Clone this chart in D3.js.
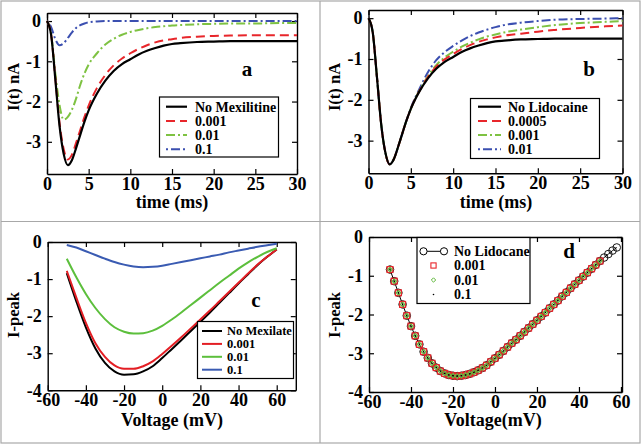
<!DOCTYPE html>
<html><head><meta charset="utf-8">
<script src="https://cdn.jsdelivr.net/npm/d3@7/dist/d3.min.js"></script>
<style>
html,body{margin:0;padding:0;background:#fff;}
svg text{font-family:"Liberation Serif","Times New Roman",serif;font-weight:bold;}
</style></head>
<body>
<svg id="chart" width="642" height="445"></svg>
<script>
// ---------- DATA ----------
const timeMs = [0,0.5,1,1.5,2,2.5,3,3.5,4,4.5,5,6,7,8,9,10,11,12,13,14,15,16,18,20,22,25,28,30];
const timeTicks = [0,5,10,15,20,25,30];
const currentTicks = [0,-1,-2,-3];

// panel a: Mexilitine
const aLabels = ["No Mexilitine","0.001","0.01","0.1"];
const aNoMex  = [0,-0.35,-1.45,-2.6,-3.3,-3.58,-3.45,-3.15,-2.82,-2.5,-2.22,-1.8,-1.48,-1.24,-1.07,-0.95,-0.83,-0.74,-0.67,-0.61,-0.57,-0.55,-0.52,-0.51,-0.5,-0.5,-0.5,-0.5];
const aMex001 = [0,-0.35,-1.42,-2.52,-3.18,-3.44,-3.32,-3.02,-2.7,-2.38,-2.1,-1.66,-1.34,-1.1,-0.93,-0.8,-0.69,-0.6,-0.53,-0.48,-0.45,-0.42,-0.39,-0.37,-0.36,-0.35,-0.35,-0.35];
const aMex01  = [0,-0.33,-1.3,-2.08,-2.45,-2.38,-2.2,-1.92,-1.58,-1.3,-1.08,-0.8,-0.58,-0.44,-0.34,-0.27,-0.22,-0.18,-0.15,-0.13,-0.11,-0.1,-0.08,-0.07,-0.06,-0.06,-0.05,-0.05];
const aMex1   = [0,-0.15,-0.45,-0.6,-0.55,-0.42,-0.28,-0.17,-0.1,-0.06,-0.03,-0.01,0,0,0,0,0,0,0,0,0,0,0,0,0,0,0,0];

// panel b: Lidocaine
const bLabels = ["No Lidocaine","0.0005","0.001","0.01"];
const bNoLido   = [0,-0.35,-1.45,-2.6,-3.3,-3.58,-3.45,-3.15,-2.82,-2.5,-2.22,-1.8,-1.48,-1.24,-1.07,-0.95,-0.83,-0.74,-0.67,-0.61,-0.57,-0.55,-0.52,-0.51,-0.5,-0.5,-0.5,-0.5];
const bLido0005 = [0,-0.35,-1.45,-2.6,-3.3,-3.58,-3.45,-3.15,-2.82,-2.5,-2.22,-1.79,-1.45,-1.19,-1.01,-0.88,-0.76,-0.66,-0.58,-0.52,-0.47,-0.43,-0.38,-0.33,-0.29,-0.24,-0.2,-0.18];
const bLido001  = [0,-0.35,-1.45,-2.6,-3.3,-3.58,-3.45,-3.15,-2.82,-2.5,-2.22,-1.78,-1.43,-1.15,-0.96,-0.82,-0.7,-0.6,-0.52,-0.45,-0.4,-0.35,-0.28,-0.22,-0.17,-0.12,-0.09,-0.07];
const bLido01   = [0,-0.35,-1.45,-2.6,-3.3,-3.58,-3.45,-3.15,-2.82,-2.5,-2.2,-1.74,-1.33,-1.03,-0.83,-0.68,-0.55,-0.44,-0.35,-0.28,-0.22,-0.17,-0.11,-0.07,-0.04,-0.02,-0.01,0];

// panel c: I-peak vs voltage, Mexilate
const voltsC = [-50,-45,-40,-35,-30,-25,-20,-15,-10,-5,0,5,10,15,20,25,30,35,40,45,50,55,60];
const voltTicks = [-60,-40,-20,0,20,40,60];
const peakTicks = [0,-1,-2,-3,-4];
const cLabels = ["No Mexilate","0.001","0.01","0.1"];
const cNoMex  = [-0.84,-1.6,-2.3,-2.87,-3.26,-3.49,-3.58,-3.57,-3.49,-3.35,-3.13,-2.89,-2.65,-2.4,-2.15,-1.9,-1.64,-1.38,-1.12,-0.87,-0.62,-0.4,-0.2];
const cMex001 = [-0.78,-1.5,-2.18,-2.73,-3.1,-3.33,-3.42,-3.42,-3.35,-3.22,-3.02,-2.8,-2.57,-2.33,-2.09,-1.85,-1.6,-1.35,-1.1,-0.85,-0.61,-0.4,-0.2];
const cMex01  = [-0.45,-0.95,-1.4,-1.78,-2.08,-2.3,-2.42,-2.47,-2.46,-2.39,-2.26,-2.09,-1.9,-1.7,-1.5,-1.3,-1.1,-0.91,-0.72,-0.55,-0.4,-0.27,-0.17];
const cMex1   = [-0.08,-0.15,-0.25,-0.35,-0.45,-0.54,-0.61,-0.66,-0.68,-0.67,-0.64,-0.59,-0.54,-0.49,-0.44,-0.39,-0.34,-0.28,-0.23,-0.18,-0.13,-0.09,-0.05];

// panel d: I-peak vs voltage, Lidocane (markers)
const dLabels = ["No Lidocane","0.001","0.01","0.1"];
const voltsD = [-50,-48,-46,-44,-42,-40,-38,-36,-34,-32,-30,-28,-26,-24,-22,-20,-18,-16,-14,-12,-10,-8,-6,-4,-2,0,2,4,6,8,10,12,14,16,18,20,22,24,26,28,30,32,34,36,38,40,42,44,46,48,50,52,54,56,58];
const dNoLido = [-0.84,-1.14,-1.44,-1.74,-2.03,-2.3,-2.55,-2.77,-2.96,-3.12,-3.26,-3.37,-3.46,-3.52,-3.56,-3.58,-3.59,-3.58,-3.56,-3.53,-3.49,-3.44,-3.38,-3.31,-3.22,-3.13,-3.04,-2.94,-2.84,-2.74,-2.65,-2.55,-2.45,-2.35,-2.25,-2.15,-2.05,-1.95,-1.84,-1.74,-1.64,-1.53,-1.43,-1.32,-1.22,-1.12,-1.02,-0.92,-0.82,-0.72,-0.62,-0.53,-0.44,-0.35,-0.27];
const dLido001 = [-0.84,-1.14,-1.44,-1.74,-2.03,-2.3,-2.55,-2.77,-2.96,-3.12,-3.26,-3.37,-3.46,-3.52,-3.56,-3.58,-3.59,-3.58,-3.56,-3.53,-3.49,-3.44,-3.38,-3.31,-3.22,-3.13,-3.04,-2.94,-2.84,-2.74,-2.65,-2.55,-2.45,-2.35,-2.25,-2.15,-2.05,-1.95,-1.84,-1.74,-1.64,-1.53,-1.43,-1.32,-1.22,-1.12,-1.02,-0.92,-0.82,-0.72,-0.62];
const dLido01  = [-0.84,-1.14,-1.44,-1.74,-2.03,-2.3,-2.55,-2.77,-2.96,-3.12,-3.26,-3.37,-3.46,-3.52,-3.56,-3.58,-3.59,-3.58,-3.56,-3.53,-3.49,-3.44,-3.38,-3.31,-3.22,-3.13,-3.04,-2.94,-2.84,-2.74,-2.65,-2.55,-2.45,-2.35,-2.25,-2.15,-2.05,-1.95,-1.84,-1.74,-1.64,-1.53,-1.43,-1.32,-1.22,-1.12,-1.02,-0.92,-0.82,-0.72,-0.62];
const dLido1   = [-0.84,-1.14,-1.44,-1.74,-2.03,-2.3,-2.55,-2.77,-2.96,-3.12,-3.26,-3.37,-3.46,-3.52,-3.56,-3.58,-3.59,-3.58,-3.56,-3.53,-3.49,-3.44,-3.38,-3.31,-3.22,-3.13,-3.04,-2.94,-2.84,-2.74,-2.65,-2.55,-2.45,-2.35,-2.25,-2.15,-2.05,-1.95,-1.84,-1.74,-1.64,-1.53,-1.43,-1.32,-1.22,-1.12,-1.02,-0.92,-0.82,-0.72,-0.62];

// ---------- DRAW ----------
const svg = d3.select("#chart");
const COL = {black:"#000000", red:"#e8262b", green:"#7ec242", blue:"#3b4fb0"};
const COLC = {black:"#000000", red:"#e31e24", green:"#5cbf3c", blue:"#3a5bb2"};
const SERIF = "'Liberation Serif','Times New Roman',serif";

// grey panel frames
svg.append("rect").attr("x",1).attr("y",1).attr("width",639).attr("height",442)
  .attr("fill","none").attr("stroke","#a8a8a8").attr("stroke-width",1.2);
svg.append("line").attr("x1",320).attr("x2",320).attr("y1",1).attr("y2",443).attr("stroke","#a8a8a8").attr("stroke-width",1.2);
svg.append("line").attr("x1",1).attr("x2",640).attr("y1",221.5).attr("y2",221.5).attr("stroke","#a8a8a8").attr("stroke-width",1.2);

const fmt = d => String(d);

function panel(p) {
  const g = svg.append("g");
  const x = d3.scaleLinear().domain(p.xDom).range([p.left, p.right]);
  const y = d3.scaleLinear().domain(p.yDom).range([p.bottom, p.top]);
  const styleAxis = sel => {
    sel.attr("font-family", SERIF).attr("font-size", 18);
    sel.select(".domain").attr("stroke","#000").attr("stroke-width",1.4);
    sel.selectAll(".tick line").attr("stroke","#000").attr("stroke-width",1.2);
    sel.selectAll("text").attr("font-size",18).attr("fill","#000")
       .attr("font-family",SERIF).attr("font-weight","bold");
  };
  g.append("g").attr("transform",`translate(0,${p.bottom})`)
    .call(d3.axisBottom(x).tickValues(p.xTicks).tickFormat(fmt).tickSizeInner(-5).tickSizeOuter(0).tickPadding(3))
    .call(styleAxis);
  g.append("g").attr("transform",`translate(0,${p.top})`)
    .call(d3.axisTop(x).tickValues(p.xTicks).tickFormat("").tickSizeInner(-5).tickSizeOuter(0))
    .call(styleAxis);
  g.append("g").attr("transform",`translate(${p.left},0)`)
    .call(d3.axisLeft(y).tickValues(p.yTicks).tickFormat(fmt).tickSizeInner(-5).tickSizeOuter(0).tickPadding(6))
    .call(styleAxis);
  g.append("g").attr("transform",`translate(${p.right},0)`)
    .call(d3.axisRight(y).tickValues(p.yTicks).tickFormat("").tickSizeInner(-5).tickSizeOuter(0))
    .call(styleAxis);

  const plot = g.append("g");
  if (p.lines) {
    const line = d3.line().x(d => x(d[0])).y(d => y(d[1])).curve(d3.curveMonotoneX);
    p.lines.forEach(s => {
      plot.append("path").datum(s.xs.map((v,i) => [v, s.ys[i]]))
        .attr("d", line).attr("fill","none").attr("stroke", s.color)
        .attr("stroke-width", s.width).attr("stroke-dasharray", s.dash || null);
    });
  }
  if (p.markers) p.markers(plot, x, y);

  g.append("text").attr("x",p.xt[0]).attr("y",p.xt[1]).attr("text-anchor","middle")
    .attr("font-size",18).text(p.xTitle);
  g.append("text").attr("transform",`translate(${p.yt[0]},${p.yt[1]}) rotate(-90)`)
    .attr("text-anchor","middle").attr("font-size",16.5).text(p.yTitle);
  g.append("text").attr("x",p.letter[0]).attr("y",p.letter[1]).attr("text-anchor","middle")
    .attr("font-size",21).text(p.letterText);
  return {g, x, y};
}

function legend(g, box, rows, fontSize, textX, drawSample) {
  g.append("rect").attr("x",box[0]).attr("y",box[1]).attr("width",box[2]).attr("height",box[3])
    .attr("fill","#fff").attr("stroke","#000").attr("stroke-width",1.2);
  rows.forEach(r => {
    drawSample(r);
    g.append("text").attr("x",textX).attr("y",r.y).attr("dy","0.35em")
      .attr("font-size",fontSize).text(r.label);
  });
}

// ---- panel a
const seriesA = [
  {ys:aNoMex, color:COL.black, width:2.2, dash:null},
  {ys:aMex001, color:COL.red, width:2, dash:"9,5"},
  {ys:aMex01, color:COL.green, width:2, dash:"9,3,2,3"},
  {ys:aMex1, color:COL.blue, width:2, dash:"2,3,9,3"}
];
const pa = panel({left:47, right:297, top:13, bottom:174, xDom:[0,30], yDom:[-3.8,0.2],
  xTicks:timeTicks, yTicks:currentTicks,
  lines:seriesA.slice().reverse().map(s => ({...s, xs:timeMs})),
  xTitle:"time (ms)", yTitle:"I(t) nA", xt:[172,208], yt:[19,87], letter:[247,76], letterText:"a"});
legend(pa.g, [159.5,97,119,60], seriesA.map((s,i)=>({...s,label:aLabels[i],y:106.7+i*14.2})), 14, 195,
  r => pa.g.append("line").attr("x1",166).attr("x2",187).attr("y1",r.y).attr("y2",r.y)
        .attr("stroke",r.color).attr("stroke-width",r.width).attr("stroke-dasharray",r.dash));

// ---- panel b
const seriesB = [
  {ys:bNoLido, color:COL.black, width:2.2, dash:null},
  {ys:bLido0005, color:COL.red, width:2, dash:"9,5"},
  {ys:bLido001, color:COL.green, width:2, dash:"9,3,2,3"},
  {ys:bLido01, color:COL.blue, width:2, dash:"2,3,9,3"}
];
const pb = panel({left:368.5, right:622.5, top:10, bottom:173.3, xDom:[0,30], yDom:[-3.8,0.2],
  xTicks:timeTicks, yTicks:currentTicks,
  lines:seriesB.slice().reverse().map(s => ({...s, xs:timeMs})),
  xTitle:"time (ms)", yTitle:"I(t) nA", xt:[496,208], yt:[340,87], letter:[589,76], letterText:"b"});
legend(pb.g, [470.5,98.5,129,60], seriesB.map((s,i)=>({...s,label:bLabels[i],y:106.7+i*14.2})), 14, 508,
  r => pb.g.append("line").attr("x1",478).attr("x2",501).attr("y1",r.y).attr("y2",r.y)
        .attr("stroke",r.color).attr("stroke-width",r.width).attr("stroke-dasharray",r.dash));

// ---- panel c
const seriesC = [
  {ys:cNoMex, color:COLC.black, width:2},
  {ys:cMex001, color:COLC.red, width:2},
  {ys:cMex01, color:COLC.green, width:2},
  {ys:cMex1, color:COLC.blue, width:2}
];
const pc = panel({left:47.7, right:295.8, top:242, bottom:390.3, xDom:[-60,70], yDom:[-4,0],
  xTicks:voltTicks, yTicks:peakTicks,
  lines:seriesC.map(s => ({...s, xs:voltsC})),
  xTitle:"Voltage (mV)", yTitle:"I-peak", xt:[172,426], yt:[19,315], letter:[256,307], letterText:"c"});
legend(pc.g, [197.5,321.5,96,57], seriesC.map((s,i)=>({...s,label:cLabels[i],y:331+i*12.9})), 12.5, 227,
  r => pc.g.append("line").attr("x1",202).attr("x2",222).attr("y1",r.y).attr("y2",r.y)
        .attr("stroke",r.color).attr("stroke-width",r.width));

// ---- panel d
const pd = panel({left:369, right:622, top:237, bottom:392, xDom:[-60,60.5], yDom:[-4,0],
  xTicks:voltTicks, yTicks:peakTicks,
  markers:(plot, x, y) => {
    const ptsBase = voltsD.map((v,i)=>[v,dNoLido[i]]);
    plot.append("path").datum(ptsBase).attr("d", d3.line().x(d=>x(d[0])).y(d=>y(d[1])))
      .attr("fill","none").attr("stroke","#000").attr("stroke-width",1);
    plot.selectAll(".c0").data(ptsBase).enter().append("circle")
      .attr("cx",d=>x(d[0])).attr("cy",d=>y(d[1])).attr("r",3.8)
      .attr("fill","none").attr("stroke","#000").attr("stroke-width",0.9);
    const sq = dLido001.map((v,i)=>[voltsD[i],v]);
    plot.selectAll(".c1").data(sq).enter().append("rect")
      .attr("x",d=>x(d[0])-2.9).attr("y",d=>y(d[1])-2.9).attr("width",5.8).attr("height",5.8)
      .attr("fill","none").attr("stroke",COL.red).attr("stroke-width",1.3);
    const dm = dLido01.map((v,i)=>[voltsD[i],v]);
    plot.selectAll(".c2").data(dm).enter().append("path")
      .attr("d",d=>`M${x(d[0])},${y(d[1])-2.2}l2.2,2.2l-2.2,2.2l-2.2,-2.2z`)
      .attr("fill","none").attr("stroke","#5fb83a").attr("stroke-width",1.1);
    const dt = dLido1.map((v,i)=>[voltsD[i],v]);
    plot.selectAll(".c3").data(dt).enter().append("circle")
      .attr("cx",d=>x(d[0])).attr("cy",d=>y(d[1])).attr("r",0.8).attr("fill","#000");
  },
  xTitle:"Voltage(mV)", yTitle:"I-peak", xt:[493,426], yt:[340,315], letter:[569,258], letterText:"d"});
{
  const g = pd.g;
  g.append("rect").attr("x",417).attr("y",237.5).attr("width",113).attr("height",66)
    .attr("fill","#fff").attr("stroke","#000").attr("stroke-width",1.2);
  const ys = [251.3,265.5,280,294.5];
  g.append("line").attr("x1",423.5).attr("x2",444).attr("y1",ys[0]).attr("y2",ys[0]).attr("stroke","#000").attr("stroke-width",1);
  [423.5,444].forEach(cx => g.append("circle").attr("cx",cx).attr("cy",ys[0]).attr("r",3.6)
    .attr("fill","#fff").attr("stroke","#000").attr("stroke-width",1));
  g.append("rect").attr("x",433.5-2.6).attr("y",ys[1]-2.6).attr("width",5.2).attr("height",5.2)
    .attr("fill","none").attr("stroke",COL.red).attr("stroke-width",1.1);
  g.append("path").attr("d",`M433.5,${ys[2]-2.2}l2.2,2.2l-2.2,2.2l-2.2,-2.2z`)
    .attr("fill","none").attr("stroke","#5fb83a").attr("stroke-width",1);
  g.append("circle").attr("cx",433.5).attr("cy",ys[3]).attr("r",0.8).attr("fill","#000");
  dLabels.forEach((t,i) => g.append("text").attr("x",454).attr("y",ys[i]).attr("dy","0.35em")
    .attr("font-size",14).text(t));
}
</script>
</body></html>
